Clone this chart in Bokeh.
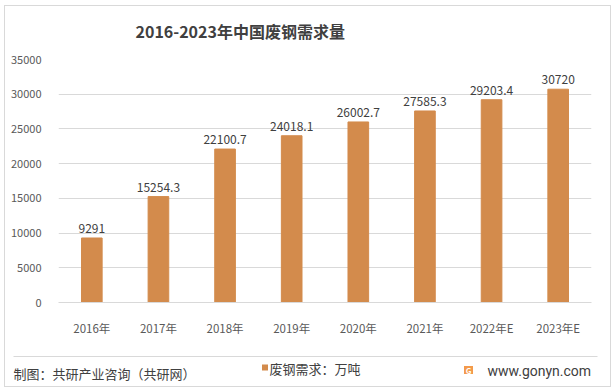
from bokeh.plotting import figure
from bokeh.layouts import column
from bokeh.models import ColumnDataSource, LabelSet, FixedTicker, Range1d
from bokeh.core.properties import value
from bokeh.embed import file_html
from bokeh.resources import INLINE

categories = ["2016年", "2017年", "2018年", "2019年", "2020年", "2021年", "2022年E", "2023年E"]
values = [9291, 15254.3, 22100.7, 24018.1, 26002.7, 27585.3, 29203.4, 30720]
value_labels = ["9291", "15254.3", "22100.7", "24018.1", "26002.7", "27585.3", "29203.4", "30720"]
y_ticks = [0, 5000, 10000, 15000, 20000, 25000, 30000, 35000]
title_text = "2016-2023年中国废钢需求量"
source_text = "制图：共研产业咨询（共研网）"
legend_text = "废钢需求：万吨"
site_text = "www.gonyn.com"

FONT = "Noto Sans CJK SC"
BAR = "#D38B4C"
TXT = "#404040"
W = 605


def blank(h):
    fig = figure(frame_width=W, frame_height=h, output_backend="svg", toolbar_location=None,
                 x_range=Range1d(0, W), y_range=Range1d(h, 0), min_border=0,
                 x_axis_location=None, y_axis_location=None)
    if "frame_align" in fig.properties():
        fig.frame_align = False
    fig.grid.visible = False
    fig.outline_line_color = None
    fig.border_fill_color = "white"
    return fig


# header with title
hdr = blank(40)
hdr.text(x=[130], y=[24], text=[title_text], text_font=value(FONT), text_font_size="16px",
         text_font_style="bold", text_color=TXT, text_baseline="middle", text_align="left")

src = ColumnDataSource(dict(cat=categories, val=values, lab=value_labels))

p = figure(x_range=categories, y_range=(0, 35000), width=W, height=300,
           output_backend="svg", toolbar_location=None,
           min_border_left=53, min_border_right=19, min_border_top=13, min_border_bottom=44)
if "frame_align" in p.properties():
    p.frame_align = False
p.outline_line_color = None
p.background_fill_color = "white"
p.border_fill_color = "white"

p.vbar(x="cat", top="val", width=0.31, color=BAR, source=src)
p.add_layout(LabelSet(x="cat", y="val", text="lab", source=src, text_align="center",
                      text_baseline="bottom", y_offset=5, text_font=value(FONT),
                      text_font_size="12px", text_color=TXT))

p.yaxis.ticker = FixedTicker(ticks=y_ticks)
p.yaxis.axis_line_color = None
p.yaxis.major_tick_line_color = None
p.yaxis.minor_tick_line_color = None
p.yaxis.major_label_text_font = FONT
p.yaxis.major_label_text_font_size = "11px"
p.yaxis.major_label_text_color = "#595959"
p.yaxis.major_label_standoff = 11

p.xaxis.axis_line_color = "#d9d9d9"
p.xaxis.major_tick_line_color = None
p.xaxis.minor_tick_line_color = None
p.xaxis.major_label_text_font = FONT
p.xaxis.major_label_text_font_size = "11.5px"
p.xaxis.major_label_text_color = "#595959"
p.xaxis.major_label_standoff = 11

p.xgrid.grid_line_color = None
p.ygrid.grid_line_color = "#d9d9d9"

# footer
f = blank(40)
f.segment(x0=[8], y0=[10], x1=[592], y1=[10], line_color="#d9d9d9", line_width=1)
f.text(x=[8], y=[27], text=[source_text], text_font=value(FONT), text_font_size="13px",
       text_color=TXT, text_baseline="middle", text_align="left")
f.rect(x=[259.5], y=[21], width=6, height=6, fill_color=BAR, line_color=None)
f.text(x=[264], y=[22], text=[legend_text], text_font=value(FONT), text_font_size="13px",
       text_color=TXT, text_baseline="middle", text_align="left")
f.rect(x=[463], y=[23.5], width=9, height=8, fill_color="#F39A4B", line_color=None)
f.text(x=[463], y=[23.5], text=["G"], text_font=value(FONT), text_font_size="8px",
       text_font_style="bold", text_color="white", text_baseline="middle", text_align="center")
f.text(x=[482], y=[24], text=[site_text], text_font=value("Roboto"), text_font_size="14px",
       text_color=TXT, text_baseline="middle", text_align="left")

layout = column(hdr, p, f, spacing=0, margin=(5, 0, 0, 4),
                styles={"border": "1px solid #d9d9d9", "background-color": "white"})

open("out.html", "w").write(file_html(layout, INLINE))
